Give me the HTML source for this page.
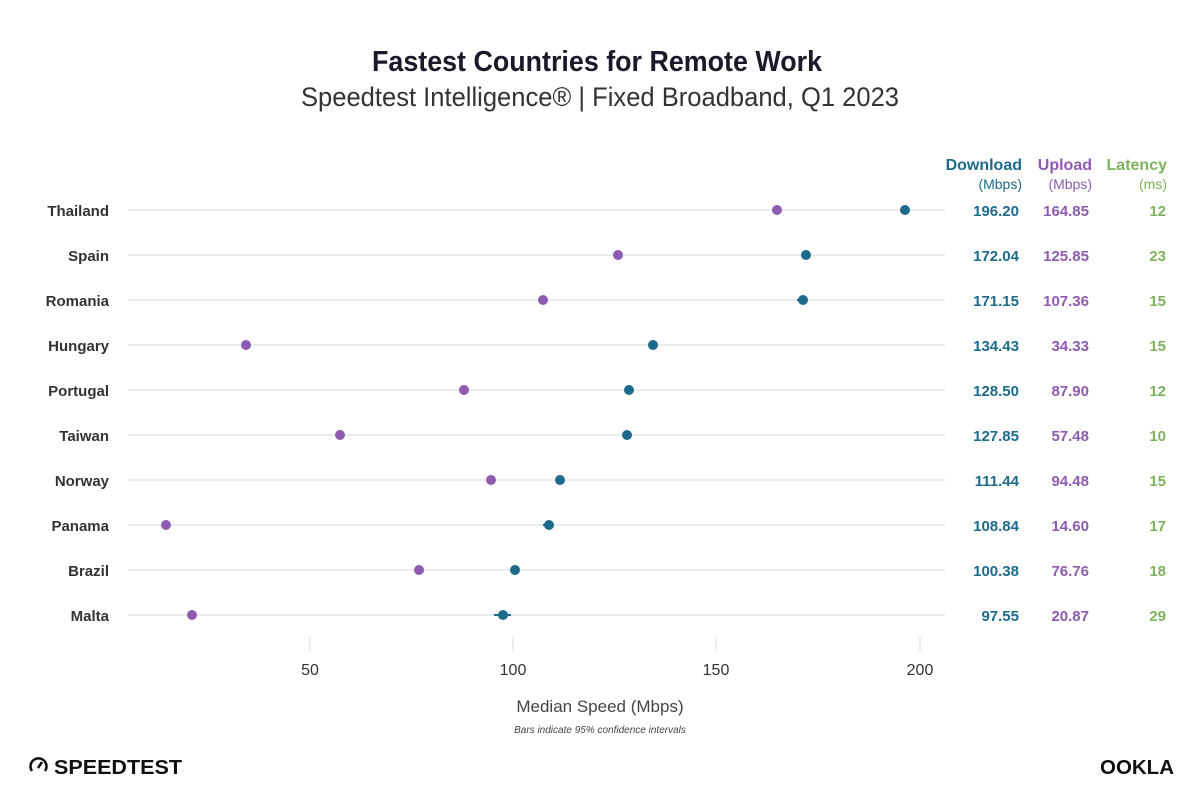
<!DOCTYPE html>
<html><head><meta charset="utf-8"><style>body{margin:0;background:#fff}svg{display:block}</style></head><body>
<svg width="1201" height="810" xmlns="http://www.w3.org/2000/svg" font-family="Liberation Sans, sans-serif">
<rect width="1201" height="810" fill="#fff"/>
<text x="597" y="71" text-anchor="middle" font-size="29" font-weight="bold" fill="#1a1a2a" textLength="450" lengthAdjust="spacingAndGlyphs">Fastest Countries for Remote Work</text>
<text x="600" y="106" text-anchor="middle" font-size="27" fill="#333" textLength="598" lengthAdjust="spacingAndGlyphs">Speedtest Intelligence® | Fixed Broadband, Q1 2023</text>
<g font-weight="bold" font-size="16" text-anchor="end">
<text x="1022" y="170" fill="#1d6a8a">Download</text>
<text x="1092" y="170" fill="#8e5bb0">Upload</text>
<text x="1167" y="170" fill="#7cb35b">Latency</text>
</g>
<g font-size="14" text-anchor="end">
<text x="1022" y="189" fill="#1d6a8a">(Mbps)</text>
<text x="1092" y="189" fill="#8e5bb0">(Mbps)</text>
<text x="1167" y="189" fill="#7cb35b">(ms)</text>
</g>
<g stroke="#ebebf0" stroke-width="2">
<line x1="128" x2="945" y1="210" y2="210"/><line x1="128" x2="945" y1="255" y2="255"/><line x1="128" x2="945" y1="300" y2="300"/><line x1="128" x2="945" y1="345" y2="345"/><line x1="128" x2="945" y1="390" y2="390"/><line x1="128" x2="945" y1="435" y2="435"/><line x1="128" x2="945" y1="480" y2="480"/><line x1="128" x2="945" y1="525" y2="525"/><line x1="128" x2="945" y1="570" y2="570"/><line x1="128" x2="945" y1="615" y2="615"/>
<line x1="310" x2="310" y1="637" y2="651"/><line x1="513" x2="513" y1="637" y2="651"/><line x1="716" x2="716" y1="637" y2="651"/><line x1="920" x2="920" y1="637" y2="651"/>
</g>
<g font-size="16" fill="#333" text-anchor="middle">
<text x="310" y="675">50</text><text x="513" y="675">100</text><text x="716" y="675">150</text><text x="920" y="675">200</text>
</g>
<text x="600" y="712" text-anchor="middle" font-size="17" fill="#444">Median Speed (Mbps)</text>
<text x="600" y="733" text-anchor="middle" font-size="10" font-style="italic" fill="#444">Bars indicate 95% confidence intervals</text>
<g font-size="15" font-weight="bold" fill="#333" text-anchor="end">
<text x="109" y="216">Thailand</text><text x="109" y="261">Spain</text><text x="109" y="306">Romania</text><text x="109" y="351">Hungary</text><text x="109" y="396">Portugal</text><text x="109" y="441">Taiwan</text><text x="109" y="486">Norway</text><text x="109" y="531">Panama</text><text x="109" y="576">Brazil</text><text x="109" y="621">Malta</text>
</g>
<g stroke="#1d6a8a" stroke-width="2">
<line x1="543" x2="554" y1="525" y2="525"/><line x1="494" x2="511" y1="615" y2="615"/><line x1="797" x2="807" y1="300" y2="300"/>
</g>
<g fill="#8e5bb0">
<circle cx="777" cy="210" r="5"/><circle cx="618" cy="255" r="5"/><circle cx="543" cy="300" r="5"/><circle cx="246" cy="345" r="5"/><circle cx="464" cy="390" r="5"/><circle cx="340" cy="435" r="5"/><circle cx="491" cy="480" r="5"/><circle cx="166" cy="525" r="5"/><circle cx="419" cy="570" r="5"/><circle cx="192" cy="615" r="5"/>
</g>
<g fill="#1d6a8a">
<circle cx="905" cy="210" r="5"/><circle cx="806" cy="255" r="5"/><circle cx="803" cy="300" r="5"/><circle cx="653" cy="345" r="5"/><circle cx="629" cy="390" r="5"/><circle cx="627" cy="435" r="5"/><circle cx="560" cy="480" r="5"/><circle cx="549" cy="525" r="5"/><circle cx="515" cy="570" r="5"/><circle cx="503" cy="615" r="5"/>
</g>
<g font-size="15" font-weight="bold" text-anchor="end">
<g fill="#1d6a8a"><text x="1019" y="216">196.20</text><text x="1019" y="261">172.04</text><text x="1019" y="306">171.15</text><text x="1019" y="351">134.43</text><text x="1019" y="396">128.50</text><text x="1019" y="441">127.85</text><text x="1019" y="486">111.44</text><text x="1019" y="531">108.84</text><text x="1019" y="576">100.38</text><text x="1019" y="621">97.55</text></g>
<g fill="#8e5bb0"><text x="1089" y="216">164.85</text><text x="1089" y="261">125.85</text><text x="1089" y="306">107.36</text><text x="1089" y="351">34.33</text><text x="1089" y="396">87.90</text><text x="1089" y="441">57.48</text><text x="1089" y="486">94.48</text><text x="1089" y="531">14.60</text><text x="1089" y="576">76.76</text><text x="1089" y="621">20.87</text></g>
<g fill="#7cb35b"><text x="1166" y="216">12</text><text x="1166" y="261">23</text><text x="1166" y="306">15</text><text x="1166" y="351">15</text><text x="1166" y="396">12</text><text x="1166" y="441">10</text><text x="1166" y="486">15</text><text x="1166" y="531">17</text><text x="1166" y="576">18</text><text x="1166" y="621">29</text></g>
</g>
<path d="M32 771 A8 8 0 1 1 45 771" fill="none" stroke="#111" stroke-width="2.5"/>
<line x1="38" y1="768" x2="42" y2="762" stroke="#111" stroke-width="2.5"/>
<text x="54" y="774" font-size="20" font-weight="bold" fill="#111" textLength="128" lengthAdjust="spacingAndGlyphs">SPEEDTEST</text>
<text x="1100" y="774" font-size="20" font-weight="bold" fill="#111" textLength="74" lengthAdjust="spacingAndGlyphs">OOKLA</text>
</svg>
</body></html>
